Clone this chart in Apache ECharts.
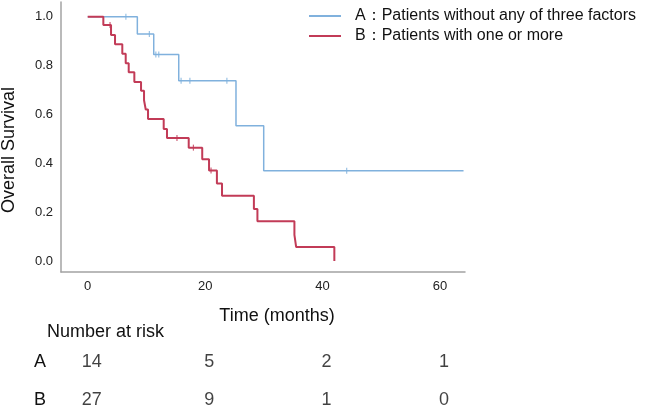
<!DOCTYPE html>
<html>
<head>
<meta charset="utf-8">
<script src="https://cdn.jsdelivr.net/npm/echarts@6/dist/echarts.min.js"></script>
<style>
  html, body { margin: 0; padding: 0; background: #fff; }
  #chart { width: 661px; height: 406px; }
</style>
</head>
<body>
<div id="chart"></div>
<script>
// Kaplan-Meier steps (months, survival)
const timesA = [0, 8.45, 11.24, 15.5, 25.25, 29.97, 64]
const survA = [1, 0.929, 0.845, 0.738, 0.554, 0.369, 0.369]
const censorA = [6.5, 10.5, 11.6, 12.1, 15.9, 17.4, 23.7, 44.1]

const timesB = [0, 2.66, 3.97, 4.65, 5.89, 6.47, 6.98, 7.94, 9.08, 9.59, 9.88, 10.27,
  12.94, 13.5, 17.2, 19.5, 20.66, 22.0, 22.87, 28.3, 28.9, 35.2, 35.5, 42.0]
const survB = [1, 0.966, 0.925, 0.887, 0.848, 0.809, 0.773, 0.733, 0.697, 0.658, 0.62, 0.581,
  0.54, 0.503, 0.464, 0.416, 0.37, 0.317, 0.267, 0.213, 0.163, 0.107, 0.057, 0]
const censorB = [3.8, 15.2, 18.0, 21.0]

const xTicks = [0, 20, 40, 60]
const yTicks = [0, 0.2, 0.4, 0.6, 0.8, 1.0]
const groups = ['A', 'B']
const riskA = [14, 5, 2, 1]
const riskB = [27, 9, 1, 0]

const nameA = 'A：Patients without any of three factors'
const nameB = 'B：Patients with one or more'
const colorA = '#80b1dd'
const colorB = '#c23b57'
const font = '"Liberation Sans", Arial, sans-serif'

function survAt(times, surv, t) {
  let s = surv[0]
  for (let i = 0; i < times.length; i++) {
    if (times[i] <= t) s = surv[i]
  }
  return s
}

function censorPoints(times, surv, cens) {
  return cens.map((t) => [t, survAt(times, surv, t)])
}

const chart = echarts.init(document.getElementById('chart'), null, { renderer: 'canvas' })

const axisGray = { onZero: false, lineStyle: { color: '#a3a3a3', width: 1.5 } }

chart.setOption({
  animation: false,
  backgroundColor: '#fff',
  textStyle: { fontFamily: font },
  grid: [
    { left: 61, right: 196, top: 2, bottom: 134, outerBoundsMode: 'none' },
    { left: 61, right: 196, top: 343, height: 76, outerBoundsMode: 'none' },
  ],
  legend: {
    data: [nameA, nameB],
    orient: 'vertical',
    left: 304,
    top: 3,
    itemGap: 4,
    icon: 'rect',
    itemWidth: 32,
    itemHeight: 2,
    textStyle: { fontSize: 16, color: '#111', fontFamily: font, padding: [0, 0, 0, 9] },
  },
  xAxis: [
    {
      type: 'value',
      gridIndex: 0,
      min: -4.55,
      max: 64.25,
      name: 'Time (months)',
      nameLocation: 'middle',
      nameGap: 35,
      nameTextStyle: { fontSize: 18, color: '#111', padding: [0, 0, 0, 28] },
      axisLine: axisGray,
      axisTick: { show: false },
      splitLine: { show: false },
      axisLabel: { customValues: xTicks, fontSize: 13, color: '#222', margin: 8 },
    },
    { type: 'value', gridIndex: 1, min: -4.55, max: 64.25, show: false },
  ],
  yAxis: [
    {
      type: 'value',
      gridIndex: 0,
      min: -0.045,
      max: 1.06,
      name: 'Overall Survival',
      nameLocation: 'middle',
      nameGap: 43,
      nameTextStyle: { fontSize: 18, color: '#111', padding: [0, 26, 0, 0] },
      axisLine: axisGray,
      axisTick: { show: false },
      splitLine: { show: false },
      axisLabel: {
        customValues: yTicks,
        fontSize: 13,
        color: '#222',
        margin: 8,
        formatter: (v) => v.toFixed(1),
      },
    },
    {
      type: 'category',
      gridIndex: 1,
      data: groups,
      inverse: true,
      axisLine: { show: false },
      axisTick: { show: false },
      axisLabel: { fontSize: 18, color: '#111', margin: 15 },
    },
  ],
  graphic: [
    {
      type: 'text',
      left: 47,
      top: 323,
      style: { text: 'Number at risk', fontSize: 18, fill: '#111', fontFamily: font },
    },
  ],
  series: [
    {
      name: nameA,
      type: 'line',
      step: 'end',
      showSymbol: false,
      color: colorA,
      lineStyle: { width: 1.5, color: colorA },
      data: timesA.map((t, i) => [t, survA[i]]),
      z: 3,
    },
    {
      name: nameB,
      type: 'line',
      step: 'end',
      showSymbol: false,
      color: colorB,
      lineStyle: { width: 2, color: colorB },
      data: timesB.map((t, i) => [t, survB[i]]),
      z: 4,
    },
    {
      name: 'censorA',
      type: 'scatter',
      symbol: 'rect',
      symbolSize: [1.2, 6],
      itemStyle: { color: colorA },
      data: censorPoints(timesA, survA, censorA),
      z: 5,
    },
    {
      name: 'censorB',
      type: 'scatter',
      symbol: 'rect',
      symbolSize: [1.2, 6],
      itemStyle: { color: colorB },
      data: censorPoints(timesB, survB, censorB),
      z: 5,
    },
    ...[riskA, riskB].map((row, r) => ({
      name: 'risk' + groups[r],
      type: 'scatter',
      xAxisIndex: 1,
      yAxisIndex: 1,
      symbolSize: 0,
      silent: true,
      data: row.map((n, i) => [xTicks[i], groups[r], n]),
      label: {
        show: true,
        position: 'inside',
        offset: [4, 0],
        fontSize: 18,
        color: '#111',
        fontFamily: font,
        formatter: (p) => String(p.value[2]),
      },
    })),
  ],
})
</script>
</body>
</html>
